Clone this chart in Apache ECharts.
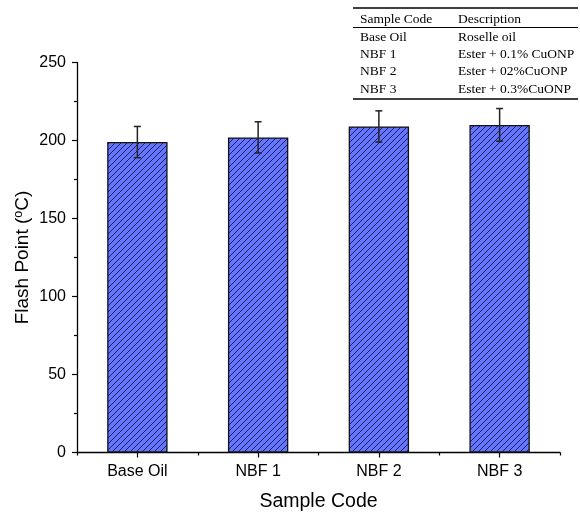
<!DOCTYPE html>
<html>
<head>
<meta charset="utf-8">
<script src="https://cdn.jsdelivr.net/npm/echarts@6/dist/echarts.min.js"></script>
<style>html,body{margin:0;padding:0;background:#fff}#c{width:580px;height:513px}</style>
</head>
<body>
<div id="c"></div>
<script>
var categories = ['Base Oil', 'NBF 1', 'NBF 2', 'NBF 3'];
var flashPoint = [199, 202, 209, 210];
var errors = [10, 10, 10, 10.5];
var tableHeader = ['Sample Code', 'Description'];
var tableCodes = ['Base Oil', 'NBF 1', 'NBF 2', 'NBF 3'];
var tableDesc = ['Roselle oil', 'Ester + 0.1% CuONP', 'Ester + 02%CuONP', 'Ester + 0.3%CuONP'];

function makeHatch() {
  var s = 6;
  var cv = document.createElement('canvas');
  cv.width = s; cv.height = s;
  var ctx = cv.getContext('2d');
  ctx.fillStyle = '#6575ff';
  ctx.fillRect(0, 0, s, s);
  ctx.strokeStyle = '#14143c';
  ctx.lineWidth = 0.85;
  ctx.beginPath();
  ctx.moveTo(-1, s + 1); ctx.lineTo(s + 1, -1);
  ctx.moveTo(-1, 1); ctx.lineTo(1, -1);
  ctx.moveTo(s - 1, s + 1); ctx.lineTo(s + 1, s - 1);
  ctx.stroke();
  return cv;
}

var chart = echarts.init(document.getElementById('c'));
var errData = flashPoint.map(function (v, i) { return [i, v - errors[i], v + errors[i]]; });

var graphics = [];
var tx0 = 353, tx1 = 578;
graphics.push({type: 'line', shape: {x1: tx0, y1: 8, x2: tx1, y2: 8}, style: {stroke: '#000', lineWidth: 1.3}});
graphics.push({type: 'line', shape: {x1: tx0, y1: 27.5, x2: tx1, y2: 27.5}, style: {stroke: '#000', lineWidth: 1}});
graphics.push({type: 'line', shape: {x1: tx0, y1: 99, x2: tx1, y2: 99}, style: {stroke: '#000', lineWidth: 1.3}});
var tfont = '13.5px "Liberation Serif", "Times New Roman", serif';
graphics.push({type: 'text', x: 360, y: 19, style: {text: tableHeader[0], font: tfont, fill: '#000', textVerticalAlign: 'middle'}});
graphics.push({type: 'text', x: 458, y: 19, style: {text: tableHeader[1], font: tfont, fill: '#000', textVerticalAlign: 'middle'}});
for (var i = 0; i < tableCodes.length; i++) {
  var yy = 37 + i * 17.4;
  graphics.push({type: 'text', x: 360, y: yy, style: {text: tableCodes[i], font: tfont, fill: '#000', textVerticalAlign: 'middle'}});
  graphics.push({type: 'text', x: 458, y: yy, style: {text: tableDesc[i], font: tfont, fill: '#000', textVerticalAlign: 'middle'}});
}

var option = {
  animation: false,
  backgroundColor: '#fff',
  textStyle: {fontFamily: '"Liberation Sans", Arial, sans-serif'},
  grid: {left: 77, right: 20, top: 62.5, bottom: 60.5, containLabel: false, outerBoundsMode: 'none'},
  xAxis: [{
    type: 'category',
    data: categories,
    name: 'Sample Code',
    nameLocation: 'middle',
    nameGap: 39,
    nameTextStyle: {fontSize: 19.5, color: '#000', fontFamily: '"Liberation Sans", Arial, sans-serif'},
    axisLine: {lineStyle: {color: '#000', width: 1.3}},
    axisTick: {show: true, alignWithLabel: true, length: 5, lineStyle: {color: '#000', width: 1.2}},
    axisLabel: {fontSize: 16, color: '#000', margin: 11},
    splitLine: {show: false}
  }, {
    type: 'category',
    data: categories,
    position: 'bottom',
    axisLine: {show: false},
    axisTick: {show: true, alignWithLabel: false, length: 3, lineStyle: {color: '#000', width: 1.2}},
    axisLabel: {show: false},
    splitLine: {show: false}
  }],
  yAxis: {
    type: 'value',
    min: 0, max: 250, interval: 50,
    name: '{a|Flash Point (}{s|o}{a|C)}',
    nameLocation: 'middle',
    nameMoveOverlap: false,
    nameGap: 44,
    nameTextStyle: {
      rich: {
        a: {fontSize: 19, color: '#000', fontFamily: '"Liberation Sans", Arial, sans-serif'},
        s: {fontSize: 12.5, color: '#000', fontFamily: '"Liberation Sans", Arial, sans-serif', verticalAlign: 'top', padding: [0, 0, 8, 0]}
      }
    },
    axisLine: {show: true, lineStyle: {color: '#000', width: 1.3}},
    axisTick: {show: true, length: 5, lineStyle: {color: '#000', width: 1.2}},
    minorTick: {show: true, splitNumber: 2, length: 3, lineStyle: {color: '#000', width: 1.2}},
    axisLabel: {fontSize: 16, color: '#000', margin: 11},
    splitLine: {show: false}
  },
  series: [{
    type: 'bar',
    data: flashPoint,
    barWidth: '50%',
    itemStyle: {color: {image: makeHatch(), repeat: 'repeat'}, borderColor: '#111', borderWidth: 1.3},
    z: 2
  }, {
    type: 'custom',
    data: errData,
    z: 3,
    renderItem: function (params, api) {
      var x = api.value(0);
      var lo = api.coord([x, api.value(1)]);
      var hi = api.coord([x, api.value(2)]);
      var hw = 3.5;
      var st = {stroke: '#222', lineWidth: 1.5};
      return {type: 'group', children: [
        {type: 'line', shape: {x1: lo[0], y1: lo[1], x2: hi[0], y2: hi[1]}, style: st},
        {type: 'line', shape: {x1: lo[0] - hw, y1: lo[1], x2: lo[0] + hw, y2: lo[1]}, style: st},
        {type: 'line', shape: {x1: hi[0] - hw, y1: hi[1], x2: hi[0] + hw, y2: hi[1]}, style: st}
      ]};
    }
  }],
  graphic: graphics
};
chart.setOption(option);
</script>
</body>
</html>
